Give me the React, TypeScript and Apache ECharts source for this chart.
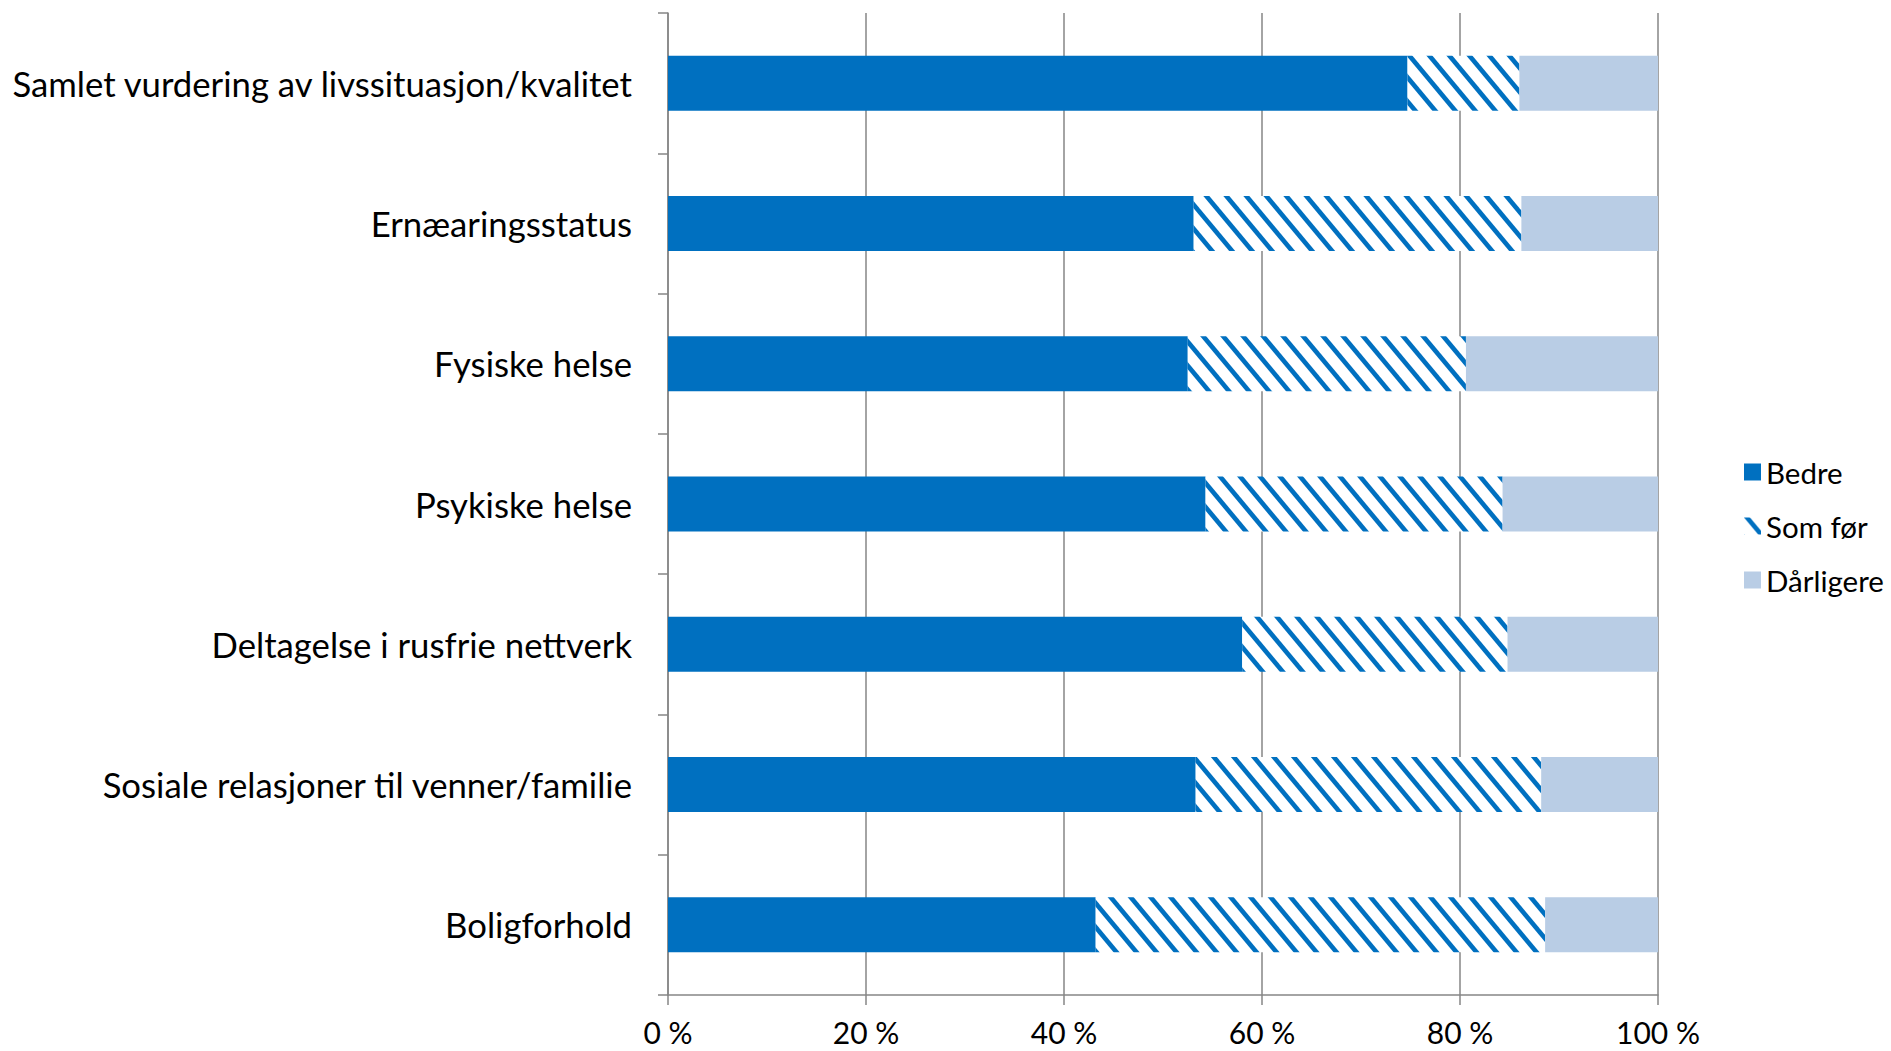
import React, { useEffect, useRef } from "react";
import * as echarts from "echarts";

const categories = [
  "Samlet vurdering av livssituasjon/kvalitet",
  "Ernæaringsstatus",
  "Fysiske helse",
  "Psykiske helse",
  "Deltagelse i rusfrie nettverk",
  "Sosiale relasjoner til venner/familie",
  "Boligforhold",
];

const seriesNames = ["Bedre", "Som før", "Dårligere"];

const bedre = [74.7, 53.1, 52.5, 54.3, 58.0, 53.3, 43.2];
const somFor = [11.3, 33.1, 28.1, 30.0, 26.8, 34.9, 45.4];
const darligere = [14.0, 13.8, 19.4, 15.7, 15.2, 11.8, 11.4];

const xTicks = [0, 20, 40, 60, 80, 100];

const BLUE = "#0070C0";
const LIGHT = "#B9CDE5";
const GRID = "#868686";
const FONT = "Lato";

function makeStripe(): HTMLCanvasElement {
  const w = 20;
  const h = 24;
  const t = 6;
  const c = document.createElement("canvas");
  c.width = w;
  c.height = h;
  const ctx = c.getContext("2d")!;
  ctx.fillStyle = "#ffffff";
  ctx.fillRect(0, 0, w, h);
  ctx.fillStyle = BLUE;
  for (const s of [-w, 0, w]) {
    ctx.beginPath();
    ctx.moveTo(s, 0);
    ctx.lineTo(s + t, 0);
    ctx.lineTo(s + t + w, h);
    ctx.lineTo(s + w, h);
    ctx.closePath();
    ctx.fill();
  }
  return c;
}

export default function App() {
  const ref = useRef<HTMLDivElement>(null);

  useEffect(() => {
    if (!ref.current) return;
    const chart = echarts.init(ref.current, undefined, { renderer: "svg" });
    const stripe = makeStripe();
    const values = [bedre, somFor, darligere];
    const colors: any[] = [BLUE, { image: stripe, repeat: "repeat" }, LIGHT];

    chart.setOption({
      animation: false,
      backgroundColor: "#ffffff",
      grid: { left: 668, right: 233, top: 13, bottom: 56, containLabel: false },
      legend: {
        orient: "vertical",
        left: 1739,
        top: 450,
        itemWidth: 17,
        itemHeight: 17,
        itemGap: 20,
        icon: "rect",
        data: seriesNames,
        textStyle: { fontFamily: FONT, fontSize: 29.5, color: "#000", lineHeight: 34 },
      },
      xAxis: {
        type: "value",
        min: xTicks[0],
        max: xTicks[xTicks.length - 1],
        interval: 20,
        axisLine: { show: true, lineStyle: { color: GRID, width: 1.5 } },
        axisTick: { show: true, length: 10, lineStyle: { color: GRID, width: 1.5 } },
        splitLine: { show: true, lineStyle: { color: GRID, width: 1.5 } },
        axisLabel: {
          fontFamily: FONT,
          fontSize: 30,
          color: "#000",
          margin: 22,
          formatter: (v: number) => `${v} %`,
        },
      },
      yAxis: {
        type: "category",
        inverse: true,
        data: categories,
        axisLine: { show: true, lineStyle: { color: GRID, width: 1.5 } },
        axisTick: { show: true, length: 10, interval: 0, lineStyle: { color: GRID, width: 1.5 } },
        splitLine: { show: false },
        axisLabel: {
          fontFamily: FONT,
          fontSize: 34.7,
          color: "#000",
          margin: 36,
          padding: [0, 0, 9, 0],
        },
      },
      series: seriesNames.map((name, i) => ({
        name,
        type: "bar",
        stack: "total",
        barWidth: 55,
        data: values[i],
        itemStyle: { color: colors[i] },
        emphasis: { disabled: true },
      })),
    });

    return () => chart.dispose();
  }, []);

  return (
    <div
      ref={ref}
      style={{ position: "absolute", left: 0, top: 0, width: 1891, height: 1051 }}
    />
  );
}
